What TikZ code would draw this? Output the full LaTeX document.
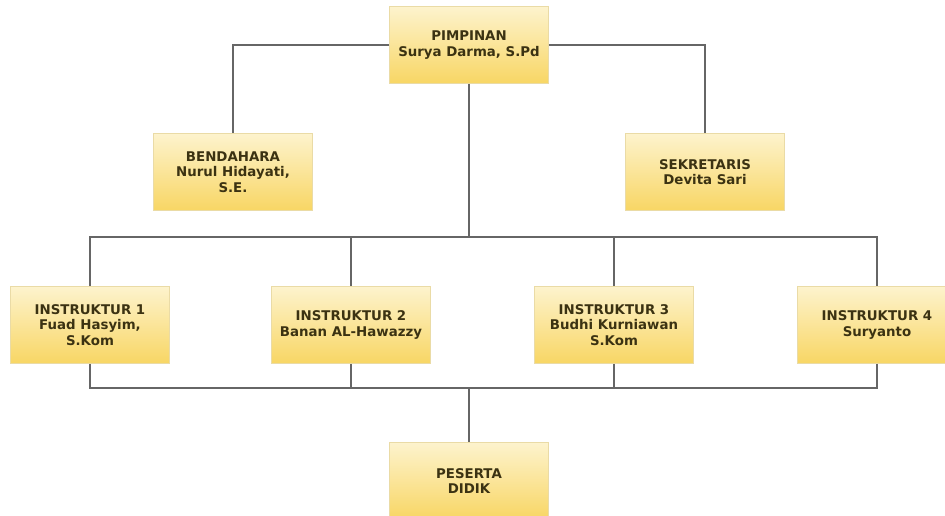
\documentclass[tikz,border=0pt]{standalone}
\usepackage{fontspec}
\usepackage{tikz}
\usepackage{xcolor}
\setmainfont{DejaVu Sans}
\usetikzlibrary{positioning}

\definecolor{boxtop}{HTML}{FDF3CD}
\definecolor{boxbottom}{HTML}{F8D664}
\definecolor{boxline}{HTML}{EADBA6}
\definecolor{boxtext}{HTML}{3B3212}
\definecolor{wire}{HTML}{666666}

\begin{document}
\begin{tikzpicture}[
        jabatan/.style={rectangle, draw=boxline, top color=boxtop, bottom color=boxbottom, minimum width=3.18cm, minimum height=1.54cm, align=center, text=boxtext, font=\fontsize{7.6}{8.8}\selectfont\bfseries, inner sep=2pt},
        garis/.style={draw=wire, line width=0.8pt}
    ]
                    \useasboundingbox (0, 0) rectangle (18.9, -10.3);

                    \node[jabatan] (pimpinan) at (9.38, -0.9) {PIMPINAN\\Surya Darma, S.Pd};
                    \node[jabatan] (bendahara) at (4.66, -3.44) {BENDAHARA\\Nurul Hidayati,\\S.E.};
                    \node[jabatan] (sekretaris) at (14.1, -3.44) {SEKRETARIS\\Devita Sari};
                    \node[jabatan] (ins1) at (1.8, -6.5) {INSTRUKTUR 1\\Fuad Hasyim,\\S.Kom};
                    \node[jabatan] (ins2) at (7.02, -6.5) {INSTRUKTUR 2\\Banan AL-Hawazzy};
                    \node[jabatan] (ins3) at (12.28, -6.5) {INSTRUKTUR 3\\Budhi Kurniawan\\S.Kom};
                    \node[jabatan] (ins4) at (17.54, -6.5) {INSTRUKTUR 4\\Suryanto};
                    \node[jabatan] (peserta) at (9.38, -9.62) {PESERTA\\DIDIK};

                    \coordinate (atas) at (9.38, -4.74);
                    \coordinate (bawah) at (9.38, -7.76);

                    \draw[garis] (pimpinan.west) -| (bendahara.north);
                    \draw[garis] (pimpinan.east) -| (sekretaris.north);
                    \draw[garis] (pimpinan.south) -- (atas);
                    \foreach \i in {ins1, ins2, ins3, ins4} {
                        \draw[garis] (atas) -| (\i.north);
                        \draw[garis] (\i.south) |- (bawah);
                    }
                    \draw[garis] (bawah) -- (peserta.north);
                \end{tikzpicture}
\end{document}
